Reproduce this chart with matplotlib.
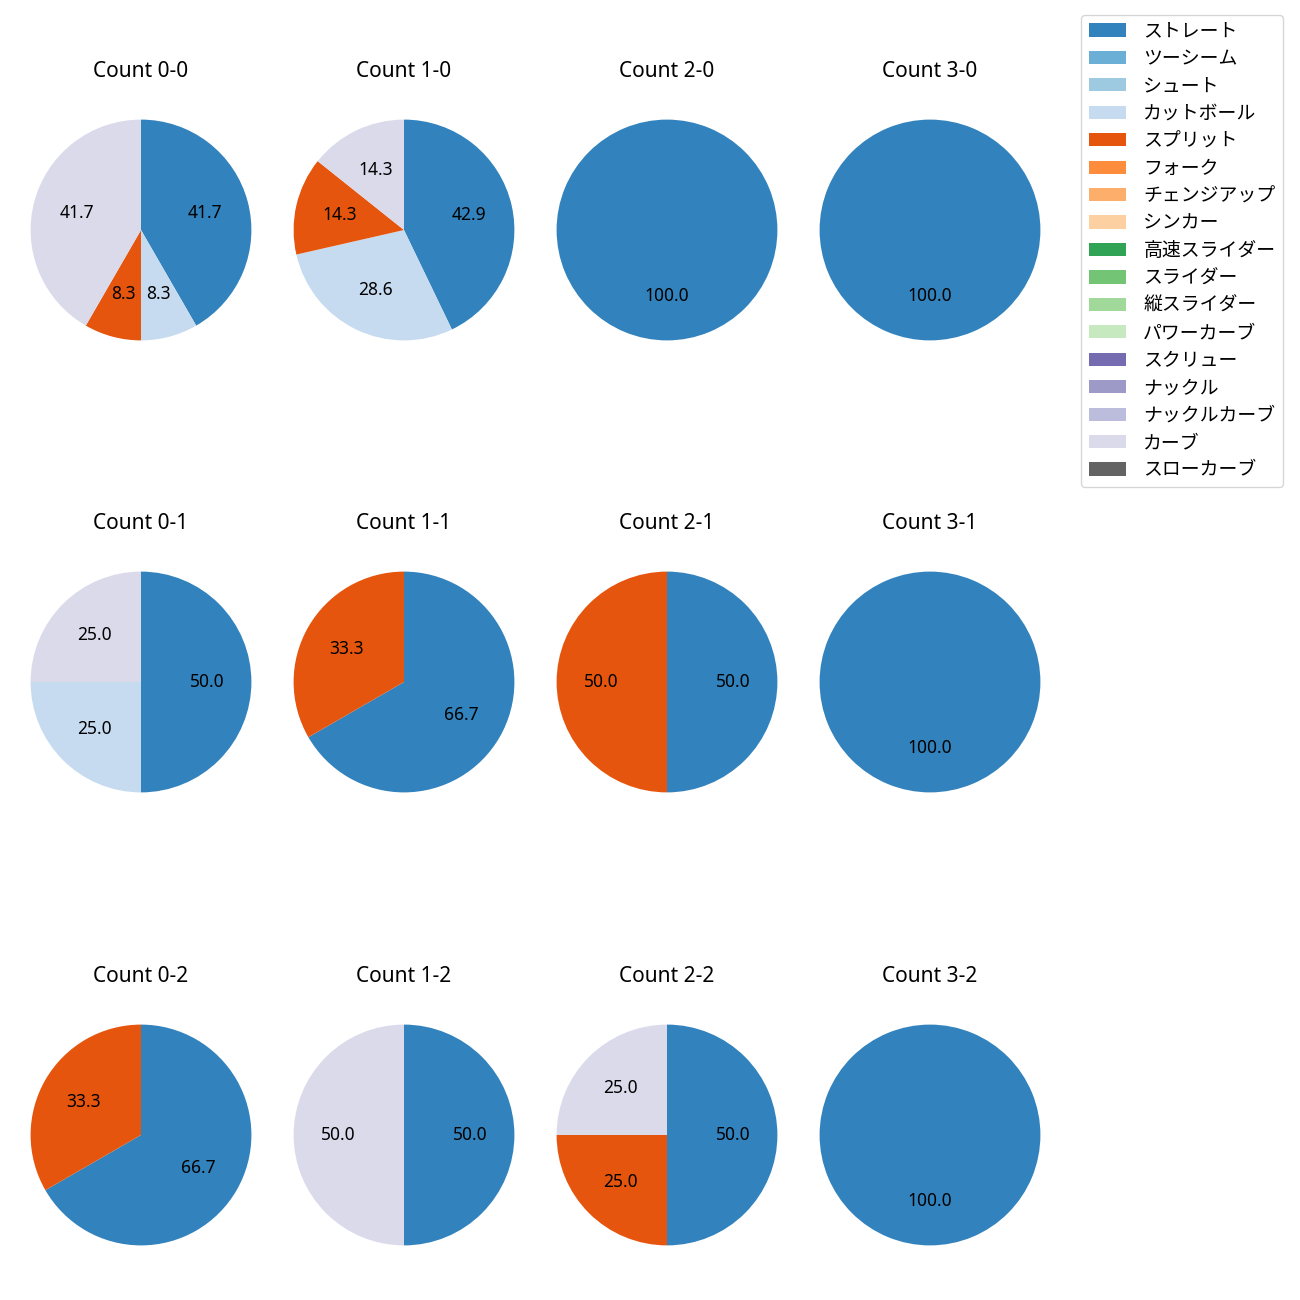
import matplotlib
matplotlib.use("Agg")
import matplotlib.pyplot as plt
from matplotlib.patches import Patch

plt.rcParams['font.family'] = ['Noto Sans', 'Noto Sans CJK JP', 'DejaVu Sans']

pitch_types = ["ストレート", "ツーシーム", "シュート", "カットボール", "スプリット", "フォーク",
               "チェンジアップ", "シンカー", "高速スライダー", "スライダー", "縦スライダー",
               "パワーカーブ", "スクリュー", "ナックル", "ナックルカーブ", "カーブ", "スローカーブ"]
pitch_colors = ["#3182bd", "#6baed6", "#9ecae1", "#c6dbef", "#e6550d", "#fd8d3c",
                "#fdae6b", "#fdd0a2", "#31a354", "#74c476", "#a1d99b", "#c7e9c0",
                "#756bb1", "#9e9ac8", "#bcbddc", "#dadaeb", "#636363"]

# pitch counts for each ball-strike count
count_0_0 = {"ストレート": 5, "カットボール": 1, "スプリット": 1, "カーブ": 5}
count_1_0 = {"ストレート": 3, "カットボール": 2, "スプリット": 1, "カーブ": 1}
count_2_0 = {"ストレート": 1}
count_3_0 = {"ストレート": 1}
count_0_1 = {"ストレート": 2, "カットボール": 1, "カーブ": 1}
count_1_1 = {"ストレート": 2, "スプリット": 1}
count_2_1 = {"ストレート": 1, "スプリット": 1}
count_3_1 = {"ストレート": 1}
count_0_2 = {"ストレート": 2, "スプリット": 1}
count_1_2 = {"ストレート": 1, "カーブ": 1}
count_2_2 = {"ストレート": 2, "スプリット": 1, "カーブ": 1}
count_3_2 = {"ストレート": 1}

grid = [
    [count_0_0, count_1_0, count_2_0, count_3_0],
    [count_0_1, count_1_1, count_2_1, count_3_1],
    [count_0_2, count_1_2, count_2_2, count_3_2],
]

W = H = 1300
fig = plt.figure(figsize=(13, 13), dpi=100)

col_centers = [141, 404, 667, 930]
row_centers = [230, 682, 1135]
box = 276  # px

color_map = dict(zip(pitch_types, pitch_colors))

for s, row in enumerate(grid):
    for b, data in enumerate(row):
        cx, cy = col_centers[b], row_centers[s]
        ax = fig.add_axes([(cx - box / 2) / W, 1 - (cy + box / 2) / H, box / W, box / H])
        labels = [p for p in pitch_types if p in data]
        vals = [data[p] for p in labels]
        cols = [color_map[p] for p in labels]
        ax.pie(vals, colors=cols, autopct='%.1f', startangle=90, counterclock=False,
               textprops={'fontsize': 12.5})
        ax.set_title(f"Count {b}-{s}", fontsize=15, pad=11)

handles = [Patch(facecolor=c) for c in pitch_colors]
fig.legend(handles, pitch_types, loc='upper right', bbox_to_anchor=(1283 / W, 1 - 15 / H),
           borderaxespad=0, fontsize=13.6, handletextpad=0.9)

fig.savefig("out.png", dpi=100)
